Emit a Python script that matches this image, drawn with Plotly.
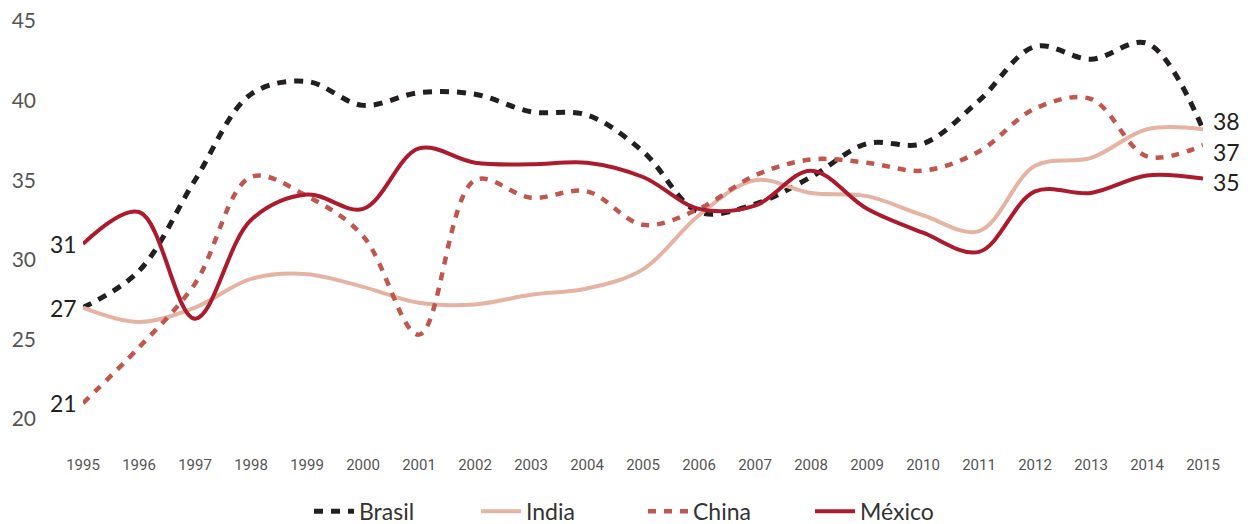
import plotly.graph_objects as go

years = list(range(1995, 2016))

brasil = [27.0, 29.3, 35.0, 40.4, 41.2, 39.7, 40.5, 40.4, 39.3, 39.1, 36.8,
          33.0, 33.5, 35.2, 37.3, 37.3, 40.0, 43.4, 42.6, 43.6, 38.2]
india = [27.0, 26.1, 27.0, 28.8, 29.1, 28.3, 27.3, 27.2, 27.8, 28.2, 29.4,
         32.8, 35.0, 34.2, 34.0, 32.8, 31.8, 35.9, 36.4, 38.2, 38.2]
china = [21.0, 24.5, 28.5, 35.2, 34.0, 31.5, 25.3, 35.0, 33.9, 34.3, 32.2,
         33.2, 35.3, 36.3, 36.1, 35.6, 36.8, 39.5, 40.1, 36.5, 37.2]
mexico = [31.0, 33.0, 26.3, 32.5, 34.1, 33.2, 37.0, 36.1, 36.0, 36.1, 35.2,
          33.2, 33.4, 35.6, 33.2, 31.7, 30.5, 34.3, 34.2, 35.3, 35.1]

# end-point value labels: (text, value, vertical nudge in px to avoid overlap)
start_labels = [("31", 31, 0), ("27", 27, 0), ("21", 21, 0)]
end_labels = [("38", 38.2, 8), ("37", 37.0, -4), ("35", 35.1, -3)]

series = [
    ("Brasil", brasil, "#231f20", "9px,8px", 5),
    ("India", india, "#e5b3a3", "solid", 4),
    ("China", china, "#c0574f", "8px,8px", 4.5),
    ("México", mexico, "#ab1a2d", "solid", 4),
]

fig = go.Figure()
for name, vals, color, dash, width in series:
    fig.add_trace(go.Scatter(x=years, y=vals, name=name, mode="lines",
                             line=dict(color=color, width=width, dash=dash,
                                       shape="spline", smoothing=1.0)))

label_font = dict(family="Lato, Open Sans, sans-serif", size=23, color="#231f20")
for text, v, nudge in start_labels:
    fig.add_annotation(x=years[0], y=v, text=text, showarrow=False,
                       xanchor="right", xshift=-4, yshift=nudge, font=label_font)
for text, v, nudge in end_labels:
    fig.add_annotation(x=years[-1], y=v, text=text, showarrow=False,
                       xanchor="left", xshift=8, yshift=nudge, font=label_font)

fig.update_layout(
    width=1252, height=524,
    margin=dict(l=75, r=57, t=13, b=113, autoexpand=False),
    plot_bgcolor="white", paper_bgcolor="white",
    font=dict(family="Lato, Open Sans, sans-serif", color="#444"),
    legend=dict(orientation="h", x=0.5, xanchor="center", y=-0.232, yanchor="middle",
                font=dict(size=23, color="#333"), itemwidth=40,
                entrywidth=112, traceorder="normal"),
    showlegend=True,
)
fig.update_xaxes(range=[1995, 2015], tickmode="array", tickvals=years,
                 ticktext=[str(y) for y in years], showgrid=False,
                 zeroline=False, showline=False, ticklabelstandoff=35,
                 automargin=False,
                 tickfont=dict(family="Roboto, sans-serif", size=15, color="#555"))
fig.update_yaxes(range=[20, 45], tickvals=[20, 25, 30, 35, 40, 45],
                 showgrid=False, zeroline=False, showline=False,
                 ticklabelstandoff=46, automargin=False, ticklabeloverflow="allow",
                 tickfont=dict(family="Lato, Open Sans, sans-serif", size=21, color="#555"))

fig.write_html("out.html")
